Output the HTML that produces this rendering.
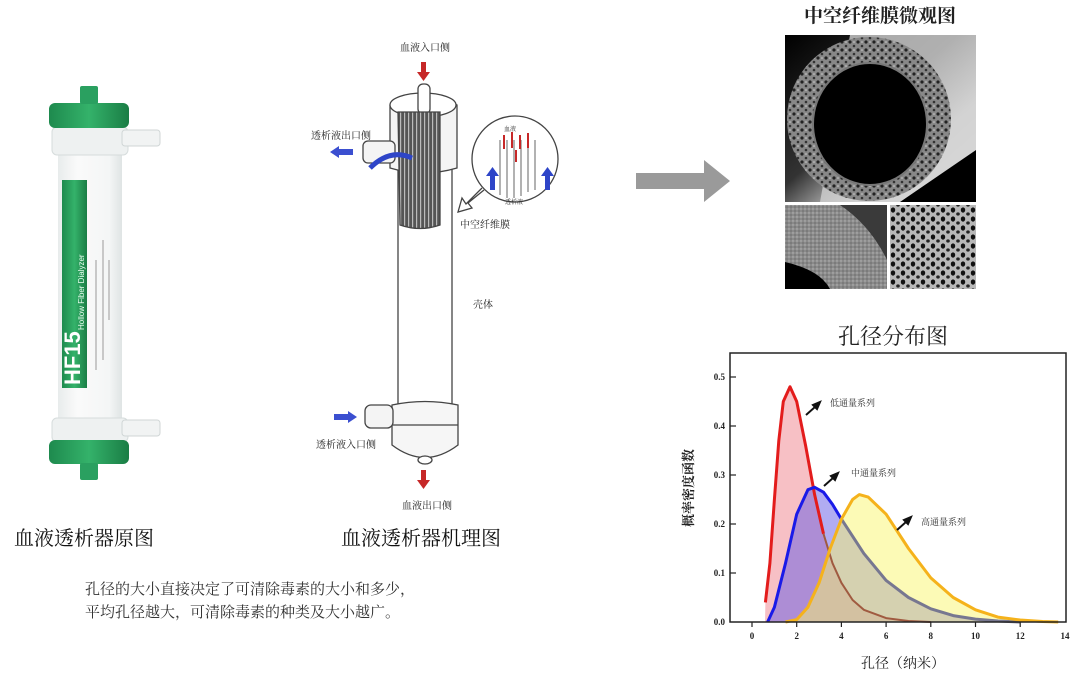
<!DOCTYPE html>
<html><head><meta charset="utf-8"><style>
html,body{margin:0;padding:0;background:#fff;}
svg{display:block;}
text{font-family:"Liberation Serif","Noto Serif CJK SC",serif;}
.s{font-family:"Liberation Serif","Noto Serif CJK SC",serif;}
</style></head><body>
<svg width="1080" height="679" viewBox="0 0 1080 679" xmlns="http://www.w3.org/2000/svg">
<defs>
<linearGradient id="clear" x1="0" x2="1"><stop offset="0" stop-color="#e8ecec"/><stop offset="0.3" stop-color="#fafafa"/><stop offset="0.8" stop-color="#f4f6f6"/><stop offset="1" stop-color="#dfe4e4"/></linearGradient>
<linearGradient id="grn" x1="0" x2="1"><stop offset="0" stop-color="#1e8a4e"/><stop offset="0.5" stop-color="#34b26a"/><stop offset="1" stop-color="#1a7d45"/></linearGradient>
<linearGradient id="bg1" x1="0" y1="0" x2="1" y2="1"><stop offset="0" stop-color="#000"/><stop offset="0.45" stop-color="#333"/><stop offset="0.7" stop-color="#ddd"/><stop offset="1" stop-color="#fff"/></linearGradient>
<pattern id="por" width="8" height="8" patternUnits="userSpaceOnUse"><rect width="8" height="8" fill="#888"/><circle cx="2" cy="2" r="1.6" fill="#222"/><circle cx="6" cy="6" r="1.3" fill="#333"/><circle cx="6" cy="2" r="0.8" fill="#ccc"/></pattern>
<pattern id="por2" width="4" height="4" patternUnits="userSpaceOnUse"><rect width="4" height="4" fill="#8a8a8a"/><circle cx="1" cy="1" r="0.7" fill="#bbb"/><circle cx="3" cy="3" r="0.6" fill="#555"/></pattern>
<pattern id="holes" width="10" height="9" patternUnits="userSpaceOnUse"><rect width="10" height="9" fill="#b8b8b8"/><ellipse cx="3" cy="3" rx="2.2" ry="2.6" fill="#111"/><ellipse cx="8" cy="7" rx="1.8" ry="1.6" fill="#222"/></pattern>
<pattern id="fib" width="4" height="10" patternUnits="userSpaceOnUse"><rect width="4" height="10" fill="#555"/><rect x="0" width="1.2" height="10" fill="#bbb"/></pattern>
</defs>

<!-- Dialyzer photo -->
<rect x="58" y="150" width="64" height="280" fill="url(#clear)"/>
<rect x="62" y="180" width="25" height="208" fill="url(#grn)"/>
<text transform="translate(80,385) rotate(-90)" font-family="Liberation Sans,sans-serif" font-size="22" font-weight="bold" fill="#fff" style="font-family:'Liberation Sans',sans-serif">HF15</text>
<text transform="translate(84,330) rotate(-90)" font-size="8" fill="#e8fff0" style="font-family:'Liberation Sans',sans-serif">Hollow Fiber Dialyzer</text>
<g fill="#c8c8c8"><rect x="95" y="260" width="2" height="110"/><rect x="102" y="240" width="2" height="120"/><rect x="108" y="260" width="2" height="60"/></g>
<rect x="52" y="127" width="76" height="28" rx="5" fill="#eef1f1" stroke="#d6dcdc"/>
<rect x="49" y="103" width="80" height="25" rx="6" fill="url(#grn)"/>
<rect x="80" y="86" width="18" height="18" rx="2" fill="#2aa060"/>
<rect x="122" y="130" width="38" height="16" rx="3" fill="#f1f3f3" stroke="#d0d6d6"/>
<rect x="52" y="418" width="76" height="24" rx="5" fill="#eef1f1" stroke="#d6dcdc"/>
<rect x="49" y="440" width="80" height="24" rx="6" fill="url(#grn)"/>
<rect x="80" y="463" width="18" height="17" rx="2" fill="#2aa060"/>
<rect x="122" y="420" width="38" height="16" rx="3" fill="#f1f3f3" stroke="#d0d6d6"/>

<!-- Mechanism diagram -->
<g stroke="#444" stroke-width="1.3" fill="#fff">
<rect x="398" y="150" width="54" height="260" fill="#fff"/>
<path d="M390,105 Q423,88 457,105 L457,168 Q423,178 390,168 Z" fill="#f4f4f4"/>
<ellipse cx="423" cy="105" rx="33" ry="12" fill="#fff"/>
<rect x="418" y="84" width="12" height="30" rx="5" fill="#fff"/>
<rect x="363" y="141" width="32" height="22" rx="5" fill="#f4f4f4"/>
<path d="M398,112 L440,112 L440,225 Q420,232 400,225 Z" fill="url(#fib)"/>
<path d="M392,405 Q425,398 458,405 L458,445 Q425,470 392,445 Z" fill="#f6f6f6"/>
<line x1="392" y1="425" x2="458" y2="425"/>
<rect x="365" y="405" width="28" height="23" rx="6" fill="#f4f4f4"/>
<ellipse cx="425" cy="460" rx="7" ry="4" fill="#fff"/>
<circle cx="515" cy="159" r="43" fill="#fff"/>
<path d="M482,188 L466,204 L462,198 L458,212 L472,208 L468,203 L484,190" fill="#fff"/>
</g>
<g stroke="#666" stroke-width="1"><line x1="500" y1="140" x2="500" y2="195"/><line x1="507" y1="140" x2="507" y2="198"/><line x1="514" y1="140" x2="514" y2="198"/><line x1="521" y1="140" x2="521" y2="196"/><line x1="528" y1="140" x2="528" y2="192"/><line x1="535" y1="140" x2="535" y2="190"/></g>
<g fill="#c62828"><rect x="503" y="135" width="2" height="14"/><rect x="511" y="132" width="2" height="16"/><rect x="519" y="135" width="2" height="14"/><rect x="527" y="133" width="2" height="15"/><rect x="515" y="150" width="2" height="12"/></g>
<g fill="#2e45c8"><path d="M490,190 h5 v-14 h4 l-6.5,-9 -6.5,9 h4 z"/><path d="M545,190 h5 v-14 h4 l-6.5,-9 -6.5,9 h4 z"/></g>
<text x="504" y="131" font-size="6" fill="#333">血液</text>
<text x="505" y="204" font-size="6" fill="#333">透析液</text>
<path d="M370,168 Q390,148 412,158" stroke="#2e45c8" stroke-width="5" fill="none"/>
<path d="M330,152 l9,-6 v3 h14 v6 h-14 v3 z" fill="#3b4fd0"/>
<path d="M357,417 l-9,-6 v3 h-14 v6 h14 v3 z" fill="#3b4fd0"/>
<path d="M421,62 h5 v10 h4 l-6.5,9 -6.5,-9 h4 z" fill="#c62828"/>
<path d="M421,470 h5 v10 h4 l-6.5,9 -6.5,-9 h4 z" fill="#c62828"/>
<g font-size="10" fill="#222">
<text x="400" y="51">血液入口侧</text>
<text x="311" y="139">透析液出口侧</text>
<text x="460" y="228">中空纤维膜</text>
<text x="473" y="308">壳体</text>
<text x="316" y="448">透析液入口侧</text>
<text x="402" y="509">血液出口侧</text>
</g>

<!-- big arrow -->
<path d="M636,173 h68 v-13 l26,21 -26,21 v-13 h-68 z" fill="#9a9a9a"/>

<!-- micrograph -->
<text x="880" y="22" font-size="19" text-anchor="middle" fill="#222" font-weight="bold">中空纤维膜微观图</text>
<rect x="785" y="35" width="191" height="167" fill="url(#bg1)"/>
<path d="M850,35 L976,35 L976,150 L900,202 L820,202 Z" fill="#cfcfcf" opacity="0.8"/>
<path d="M976,150 L976,202 L900,202 Z" fill="#000"/>
<ellipse cx="869" cy="119" rx="82" ry="82" fill="url(#por)"/>
<ellipse cx="870" cy="124" rx="57" ry="61" fill="#000" stroke="#777" stroke-width="2"/>
<rect x="785" y="205" width="102" height="84" fill="url(#por2)"/>
<path d="M840,205 L887,205 L887,260 Q870,225 840,205 Z" fill="#3a3a3a"/>
<path d="M785,262 Q820,270 830,289 L785,289 Z" fill="#000"/>
<rect x="890" y="205" width="86" height="84" fill="url(#holes)"/>

<!-- chart -->
<text x="893" y="344" font-size="22" text-anchor="middle" fill="#222">孔径分布图</text>
<path d="M765.4,602.4 L769.9,563.2 L774.4,499.5 L778.8,440.7 L783.3,401.5 L790,386.8 L796.7,401.5 L805.6,445.6 L814.6,494.6 L823.5,533.8 L832.5,563.2 L841.4,582.8 L852.6,600 L863.8,609.8 L886.1,618.1 L908.5,621 L930.8,622 L765,622 Z" fill="rgba(240,130,140,0.5)"/>
<path d="M767.6,622 L774.4,607.3 L785.5,563.2 L796.7,514.2 L807.9,489.7 L814.6,487.3 L823.5,492.2 L832.5,504.4 L841.4,519.1 L863.8,553.4 L886.1,580.4 L908.5,597.5 L930.8,608.8 L953.2,615.6 L975.5,619.1 L997.9,621 L1020.2,622 Z" fill="rgba(100,90,230,0.5)"/>
<path d="M785.5,622 L796.7,619.6 L807.9,607.3 L819.1,582.8 L830.2,548.5 L841.4,519.1 L852.6,499.5 L859.3,494.6 L868.2,497.1 L886.1,514.2 L908.5,548.5 L930.8,577.9 L953.2,597.5 L975.5,609.8 L997.9,617.1 L1020.2,620 L1042.6,621.5 L1058.2,622 Z" fill="rgba(250,245,110,0.5)"/>
<g fill="none" stroke-width="3" stroke-linejoin="round">
<path d="M765.4,602.4 L769.9,563.2 L774.4,499.5 L778.8,440.7 L783.3,401.5 L790,386.8 L796.7,401.5 L805.6,445.6 L814.6,494.6 L823.5,533.8" stroke="#e31c1c"/>
<path d="M823.5,533.8 L832.5,563.2 L841.4,582.8 L852.6,600 L863.8,609.8 L886.1,618.1 L908.5,621 L930.8,622" stroke="#a05a40" stroke-width="2"/>
<path d="M767.6,622 L774.4,607.3 L785.5,563.2 L796.7,514.2 L807.9,489.7 L814.6,487.3 L823.5,492.2 L832.5,504.4 L841.4,519.1" stroke="#1a1ae8"/>
<path d="M841.4,519.1 L863.8,553.4 L886.1,580.4 L908.5,597.5 L930.8,608.8 L953.2,615.6 L975.5,619.1 L997.9,621 L1020.2,622" stroke="#777790"/>
<path d="M785.5,622 L796.7,619.6 L807.9,607.3 L819.1,582.8 L830.2,548.5 L841.4,519.1 L852.6,499.5 L859.3,494.6 L868.2,497.1 L886.1,514.2 L908.5,548.5 L930.8,577.9 L953.2,597.5 L975.5,609.8 L997.9,617.1 L1020.2,620 L1042.6,621.5 L1058.2,622" stroke="#f5b21b"/>
</g>
<rect x="730" y="353" width="336" height="269" fill="none" stroke="#222" stroke-width="1.5"/>
<g stroke="#222" stroke-width="1.2">
<line x1="730" y1="377" x2="736" y2="377"/><line x1="730" y1="426" x2="736" y2="426"/><line x1="730" y1="475" x2="736" y2="475"/><line x1="730" y1="524" x2="736" y2="524"/><line x1="730" y1="573" x2="736" y2="573"/>
<line x1="752" y1="622" x2="752" y2="627"/><line x1="796.7" y1="622" x2="796.7" y2="627"/><line x1="841.4" y1="622" x2="841.4" y2="627"/><line x1="886.1" y1="622" x2="886.1" y2="627"/><line x1="930.8" y1="622" x2="930.8" y2="627"/><line x1="975.5" y1="622" x2="975.5" y2="627"/><line x1="1020.2" y1="622" x2="1020.2" y2="627"/>
</g>
<g font-size="9" font-weight="bold" fill="#222" text-anchor="end">
<text x="725" y="380">0.5</text><text x="725" y="429">0.4</text><text x="725" y="478">0.3</text><text x="725" y="527">0.2</text><text x="725" y="576">0.1</text><text x="725" y="625">0.0</text>
</g>
<g font-size="9" font-weight="bold" fill="#222" text-anchor="middle">
<text x="752" y="639">0</text><text x="796.7" y="639">2</text><text x="841.4" y="639">4</text><text x="886.1" y="639">6</text><text x="930.8" y="639">8</text><text x="975.5" y="639">10</text><text x="1020.2" y="639">12</text><text x="1065" y="639">14</text>
</g>
<text x="903" y="668" font-size="14" text-anchor="middle" fill="#222">孔径（纳米）</text>
<text transform="translate(693,488) rotate(-90)" font-size="13" text-anchor="middle" fill="#222" font-weight="bold">概率密度函数</text>
<g fill="#111">
<path d="M806,415 L815,407 L813,405 L820,402 L817,409 L815,407" stroke="#111" stroke-width="2"/>
<path d="M824,486 L833,478 L831,476 L838,473 L835,480 L833,478" stroke="#111" stroke-width="2"/>
<path d="M897,530 L906,522 L904,520 L911,517 L908,524 L906,522" stroke="#111" stroke-width="2"/>
</g>
<g font-size="9" fill="#333"><text x="830" y="406">低通量系列</text><text x="851" y="476">中通量系列</text><text x="921" y="525">高通量系列</text></g>

<!-- bottom labels -->
<text x="14" y="545" font-size="20" fill="#111">血液透析器原图</text>
<text x="341" y="545" font-size="20" fill="#111">血液透析器机理图</text>
<text x="85" y="594" font-size="15" fill="#333">孔径的大小直接决定了可清除毒素的大小和多少，</text>
<text x="85" y="617" font-size="15" fill="#333">平均孔径越大，可清除毒素的种类及大小越广。</text>
</svg>
</body></html>
